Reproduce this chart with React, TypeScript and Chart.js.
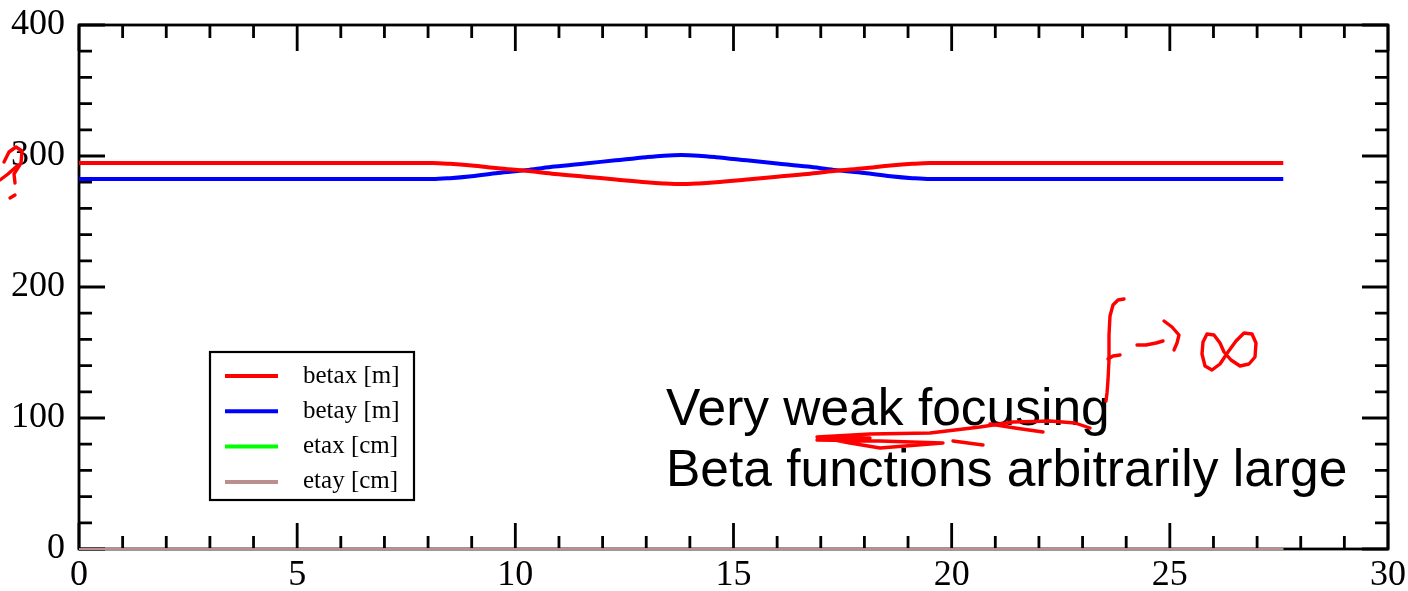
import React, { useEffect, useRef } from "react";
import { Chart, registerables } from "chart.js";

Chart.register(...registerables);

// Longitudinal position s [m]
const sPos = [0, 8.1, 8.5, 9.0, 9.6, 10.3, 10.9, 11.6, 12.3, 13.0, 13.4, 13.8, 14.2, 14.6, 15.3, 16.0, 16.7, 17.3, 18.0, 18.6, 19.1, 19.5, 27.6];
const betaX = [294.6, 294.6, 294.0, 292.7, 290.6, 288.5, 286.3, 284.2, 282.1, 280.0, 279.1, 278.6, 279.1, 280.0, 282.1, 284.2, 286.3, 288.5, 290.6, 292.7, 294.0, 294.6, 294.6];
const betaY = [282.4, 282.4, 283.1, 284.6, 287.0, 289.4, 291.9, 294.3, 296.7, 299.1, 300.2, 300.7, 300.2, 299.1, 296.7, 294.3, 291.9, 289.4, 287.0, 284.6, 283.1, 282.4, 282.4];
const sEta = [0, 27.6];
const etaX = [0, 0];
const etaY = [0, 0];

const seriesLabels = ["betax [m]", "betay [m]", "etax [cm]", "etay [cm]"];
const seriesColors = ["#ff0000", "#0000ff", "#00ff00", "#bc8f8f"];

const xTickStep = 5;
const xMinorStep = 1;
const yTickStep = 100;
const yMinorStep = 20;
const xMin = 0, xMax = 30, yMin = 0, yMax = 400;

const annotationLines = ["Very weak focusing", "Beta functions arbitrarily large"];

const pts = (xs: number[], ys: number[]) => xs.map((x, i) => ({ x, y: ys[i] }));

const framePlugin = {
  id: "frameTicks",
  beforeDatasetsDraw(chart: any) {
    const { ctx, chartArea, scales } = chart;
    const { left, right, top, bottom } = chartArea;
    const xs = scales.x, ys = scales.y;
    ctx.save();
    ctx.strokeStyle = "#000";
    ctx.lineWidth = 2.8;
    ctx.lineCap = "butt";
    ctx.beginPath();
    for (let v = xMin; v <= xMax + 1e-9; v += xMinorStep) {
      const p = xs.getPixelForValue(v);
      const len = Math.abs(v % xTickStep) < 1e-9 ? 26 : 13;
      ctx.moveTo(p, bottom); ctx.lineTo(p, bottom - len);
      ctx.moveTo(p, top); ctx.lineTo(p, top + len);
    }
    for (let v = yMin; v <= yMax + 1e-9; v += yMinorStep) {
      const p = ys.getPixelForValue(v);
      const len = Math.abs(v % yTickStep) < 1e-9 ? 26 : 13;
      ctx.moveTo(left, p); ctx.lineTo(left + len, p);
      ctx.moveTo(right, p); ctx.lineTo(right - len, p);
    }
    ctx.stroke();
    ctx.strokeRect(left, top, right - left, bottom - top);
    ctx.restore();
  },
};

const legendPlugin = {
  id: "boxLegend",
  afterDraw(chart: any) {
    const { ctx } = chart;
    const bx = 210, by = 352, bw = 204, bh = 148;
    ctx.save();
    ctx.fillStyle = "#fff";
    ctx.fillRect(bx, by, bw, bh);
    ctx.strokeStyle = "#000";
    ctx.lineWidth = 2.2;
    ctx.strokeRect(bx, by, bw, bh);
    ctx.font = '25px "Liberation Serif"';
    ctx.textBaseline = "middle";
    ctx.textAlign = "left";
    chart.data.datasets.forEach((ds: any, i: number) => {
      const y = 376 + i * 35.3;
      ctx.strokeStyle = ds.borderColor;
      ctx.lineWidth = 4;
      ctx.beginPath();
      ctx.moveTo(225, y);
      ctx.lineTo(278, y);
      ctx.stroke();
      ctx.fillStyle = "#000";
      ctx.fillText(ds.label, 303, y);
    });
    ctx.restore();
  },
};

const scribbles: number[][][] = [
  // f
  [[1124, 299], [1118, 300], [1113, 305], [1110, 316], [1109, 335], [1109, 360], [1108, 380], [1107, 393], [1106, 401]],
  [[1108, 359], [1113, 356], [1120, 355]],
  // arrow
  [[1137, 345], [1146, 345], [1156, 343], [1163, 341]],
  [[1164, 321], [1172, 327], [1179, 335], [1177, 343], [1174, 350]],
  // infinity
  [[1224, 352], [1220, 343], [1214, 335], [1207, 334], [1203, 342], [1202, 354], [1205, 366], [1212, 370], [1220, 364], [1228, 352], [1236, 341], [1244, 333], [1252, 334], [1256, 343], [1255, 357], [1249, 364], [1240, 366], [1231, 360], [1224, 352]],
  // underline zigzag
  [[1090, 428], [1075, 423], [1050, 421], [1013, 422], [980, 427], [930, 433], [870, 434], [835, 436], [817, 437], [850, 443], [880, 448], [943, 443], [880, 441], [817, 440], [845, 438], [870, 438]],
  [[953, 441], [968, 443], [983, 445]],
  [[990, 424], [1015, 428], [1043, 432]],
  // left scribble near 300
  [[4, 162], [9, 152], [16, 147], [22, 151], [21, 163], [14, 174], [15, 183]],
  [[0, 180], [8, 174], [17, 166]],
  [[10, 198], [15, 195]],
];

const annotationPlugin = {
  id: "annotations",
  afterDraw(chart: any) {
    const { ctx } = chart;
    ctx.save();
    ctx.fillStyle = "#000";
    ctx.font = '51.5px "Liberation Sans"';
    ctx.textBaseline = "alphabetic";
    ctx.textAlign = "left";
    ctx.fillText(annotationLines[0], 666, 425);
    ctx.fillText(annotationLines[1], 666, 486);
    ctx.strokeStyle = "#ff0000";
    ctx.lineWidth = 3.4;
    ctx.lineJoin = "round";
    ctx.lineCap = "round";
    scribbles.forEach((path) => {
      ctx.beginPath();
      path.forEach(([x, y], i) => (i === 0 ? ctx.moveTo(x, y) : ctx.lineTo(x, y)));
      ctx.stroke();
    });
    ctx.restore();
  },
};

export default function App() {
  const ref = useRef<HTMLCanvasElement | null>(null);
  useEffect(() => {
    if (!ref.current) return;
    const mk = (i: number, data: any[], width: number, order: number) => ({
      label: seriesLabels[i],
      data,
      borderColor: seriesColors[i],
      backgroundColor: seriesColors[i],
      borderWidth: width,
      pointRadius: 0,
      fill: false,
      order,
      cubicInterpolationMode: "monotone" as const,
      clip: false as const,
    });
    const chart = new Chart(ref.current, {
      type: "line",
      data: {
        datasets: [
          mk(0, pts(sPos, betaX), 4, 1),
          mk(1, pts(sPos, betaY), 4, 2),
          mk(2, pts(sEta, etaX), 2, 4),
          mk(3, pts(sEta, etaY), 2, 3),
        ],
      },
      plugins: [framePlugin, legendPlugin, annotationPlugin],
      options: {
        animation: false,
        responsive: true,
        maintainAspectRatio: false,
        layout: { padding: { top: 25, right: 20, left: 0, bottom: 0 } },
        plugins: { legend: { display: false }, tooltip: { enabled: false } },
        scales: {
          x: {
            type: "linear",
            min: xMin,
            max: xMax,
            grid: { display: false, drawTicks: false },
            border: { display: false },
            ticks: {
              stepSize: xTickStep,
              color: "#000",
              padding: 5,
              maxRotation: 0,
              font: { family: '"Liberation Serif"', size: 36 },
            },
            afterFit: (s: any) => {
              s.height = 42;
              s.paddingLeft = 0;
              s.paddingRight = 0;
            },
          },
          y: {
            type: "linear",
            min: yMin,
            max: yMax,
            grid: { display: false, drawTicks: false },
            border: { display: false },
            ticks: {
              stepSize: yTickStep,
              color: "#000",
              padding: 14,
              font: { family: '"Liberation Serif"', size: 36 },
            },
            afterFit: (s: any) => {
              s.width = 79;
              s.paddingTop = 0;
              s.paddingBottom = 0;
            },
          },
        },
      },
    });
    return () => chart.destroy();
  }, []);
  return (
    <div style={{ position: "fixed", left: 0, top: 0, width: 1408, height: 591, background: "#fff" }}>
      <canvas ref={ref} />
    </div>
  );
}
